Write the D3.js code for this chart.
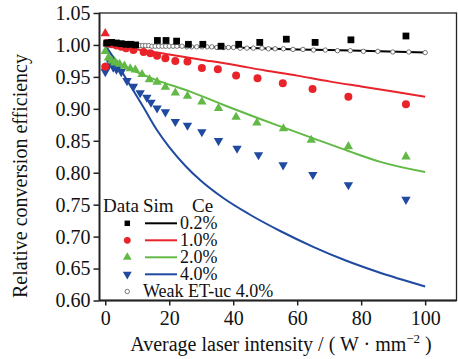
<!DOCTYPE html>
<html>
<head>
<meta charset="utf-8">
<script src="https://cdn.jsdelivr.net/npm/d3@7"></script>
<style>
  body { margin: 0; background: #fff; }
</style>
</head>
<body>
<script>
// measured points [intensity, efficiency]
let data02 = [[0.5,1.003],[2,1.004],[3.5,1.003],[5,1.002],[6.5,1.001],[8,1.001],[9.5,1.000],
  [16.3,1.007],[19,1.007],[22.3,1.006],[26,1.001],[30.5,1.001],[36.2,0.998],[41.7,1.001],
  [48.3,1.004],[56.6,1.009],[65.6,1.004],[76.8,1.008],[94,1.014]];
let data10 = [[0,0.966],[0.5,1.003],[2,1.001],[3.5,0.999],[5,0.997],[6.5,0.995],[8.8,0.992],
  [12,0.989],[14.1,0.987],[16.2,0.983],[18.8,0.979],[21.9,0.975],[25.7,0.974],[30.2,0.964],
  [35.2,0.962],[40.9,0.952],[47.6,0.948],[55.5,0.940],[64.8,0.931],[76,0.919],[94,0.907]];
let data20 = [[0,0.990],[1,0.980],[2,0.975],[3,0.972],[4.5,0.970],[6,0.967],[7.8,0.963],
  [9.4,0.961],[11.5,0.954],[13.8,0.946],[16.2,0.942],[18.8,0.934],[21.9,0.925],[25.7,0.920],
  [30.2,0.911],[35.4,0.901],[40.9,0.887],[47.4,0.878],[55.7,0.869],[64.4,0.851],[76,0.841],[94,0.825]];
let data20odd = [[0,1.018]];
let data40 = [[0,0.958],[0.3,0.962],[1,0.968],[1.6,0.972],[2.5,0.965],[3.5,0.962],[5,0.958],
  [6.8,0.944],[8.8,0.935],[10.9,0.925],[13,0.918],[14.3,0.910],[16.2,0.901],[18.8,0.895],
  [21.9,0.880],[25.7,0.874],[30.2,0.864],[35.4,0.850],[41.2,0.838],[47.9,0.828],[55.6,0.812],
  [64.9,0.797],[76,0.781],[94,0.758]];

// simulated curves
let sim02 = [[0,1.000],[20,0.998],[40,0.996],[60,0.993],[80,0.991],[100,0.988]];
let sim10 = [[0,1.000],[10,0.993],[20,0.985],[30,0.977],[40,0.969],[50,0.960],[60,0.952],
  [70,0.943],[80,0.935],[90,0.927],[100,0.919]];
let sim20 = [[0,1.000],[2,0.985],[5,0.969],[10,0.957],[16,0.945],[26.6,0.927],[37,0.906],
  [47.4,0.886],[57.8,0.867],[64.4,0.855],[76,0.834],[86,0.817],[100,0.801]];
let sim40 = [[0,1.000],[4,0.968],[8,0.935],[12,0.902],[16,0.868],[20,0.840],[25,0.811],
  [30,0.787],[37,0.760],[45,0.735],[55,0.708],[65,0.684],[75,0.663],[85,0.645],[100,0.622]];

// weak ET-uc 4.0% simulation points
let weakX = [0,0.5,1,1.5,2,2.5,3,3.7,4.4,5.1,5.8,6.6,7.4,8.2,9,9.9,10.8,11.7,12.6,13.6,14.6,
  15.6,16.7,17.8,18.9,20,21.2,22.4,24,25.5,27,28.6,30.2,31.8,33.3,34.9,37,38.5,40.1,42.2,44.3,
  46.3,49,51,53.1,55.7,58.7,61.8,65.1,68.8,72.6,76.6,80.7,85.2,89.9,94.9,100];
let weakY = [1.000,1.000,1.000,1.000,1.000,1.000,1.000,1.000,1.000,0.999,0.999,0.999,0.999,0.999,
  0.999,0.999,0.999,0.999,0.999,0.999,0.998,0.998,0.998,0.998,0.998,0.998,0.998,0.998,0.998,
  0.997,0.997,0.997,0.997,0.997,0.997,0.996,0.996,0.996,0.996,0.995,0.995,0.995,0.995,0.994,
  0.994,0.994,0.993,0.993,0.992,0.992,0.991,0.991,0.990,0.990,0.989,0.989,0.988];

let legendLabels = ["0.2%", "1.0%", "2.0%", "4.0%"];
let colors = ["#000000", "#e8232a", "#62b946", "#1f4aa0"];

let w = 458, h = 359;
let mLeft = 99.5, mRight = 456.5, mTop = 13, mBottom = 300.5;

let svg = d3.select("body").append("svg")
  .attr("width", w)
  .attr("height", h);

let x = d3.scaleLinear().domain([-1.8, 109.8]).range([mLeft, mRight]);
let y = d3.scaleLinear().domain([0.6, 1.05]).range([mBottom, mTop]);

// frame
svg.append("rect")
  .attr("x", mLeft).attr("y", mTop)
  .attr("width", mRight - mLeft).attr("height", mBottom - mTop)
  .attr("fill", "none").attr("stroke", "#222").attr("stroke-width", 1.3);

let yAxis = svg.append("g")
  .attr("transform", `translate(${mLeft},0)`)
  .call(d3.axisLeft(y)
    .tickValues(d3.range(0, 10).map(i => 0.6 + i * 0.05))
    .tickFormat(d3.format(".2f"))
    .tickSize(6).tickPadding(3));

let xAxis = svg.append("g")
  .attr("transform", `translate(0,${mBottom})`)
  .call(d3.axisBottom(x)
    .tickValues([0, 20, 40, 60, 80, 100])
    .tickSize(5).tickPadding(5));

[xAxis, yAxis].forEach(g => {
  g.attr("font-family", null).attr("font-size", null);
  g.selectAll("path").remove();
  g.selectAll("line").attr("stroke", "#222").attr("stroke-width", 1.5);
  g.selectAll("text").attr("fill", "#111").attr("font-size", 20);
});
// axis lines drawn thicker
svg.append("line").attr("x1", mLeft).attr("x2", mLeft).attr("y1", mTop).attr("y2", mBottom)
  .attr("stroke", "#222").attr("stroke-width", 1.8);
svg.append("line").attr("x1", mLeft).attr("x2", mRight).attr("y1", mBottom).attr("y2", mBottom)
  .attr("stroke", "#222").attr("stroke-width", 1.8);

let line = d3.line().x(d => x(d[0])).y(d => y(d[1])).curve(d3.curveMonotoneX);

[sim02, sim10, sim20, sim40].forEach((s, i) => {
  svg.append("path").datum(s)
    .attr("d", line)
    .attr("fill", "none")
    .attr("stroke", colors[i])
    .attr("stroke-width", 2);
});

// weak ET-uc circles
svg.selectAll("circle.weak")
  .data(weakX.map((v, i) => [v, weakY[i]]))
  .enter().append("circle")
  .attr("class", "weak")
  .attr("cx", d => x(d[0]))
  .attr("cy", d => y(d[1]))
  .attr("r", 2.2)
  .attr("fill", "#fff")
  .attr("stroke", "#666")
  .attr("stroke-width", 0.9);

function drawMarks(data, shape, size, color, rot) {
  svg.append("g").selectAll("path")
    .data(data)
    .enter().append("path")
    .attr("d", d3.symbol().type(shape).size(size))
    .attr("transform", d => `translate(${x(d[0])},${y(d[1])}) rotate(${rot})`)
    .attr("fill", color);
}

drawMarks(data40, d3.symbolTriangle, 38, colors[3], 180);
drawMarks(data20, d3.symbolTriangle, 38, colors[2], 0);
drawMarks(data20odd, d3.symbolTriangle, 38, colors[1], 0);
drawMarks(data10, d3.symbolCircle, 50, colors[1], 0);
drawMarks(data02, d3.symbolSquare, 46, colors[0], 0);

// legend
let lg = svg.append("g").attr("fill", "#111");
lg.append("text").attr("x", 103).attr("y", 212).attr("font-size", 19).text("Data");
lg.append("text").attr("x", 143).attr("y", 212).attr("font-size", 19).text("Sim");
lg.append("text").attr("x", 192).attr("y", 212).attr("font-size", 19).text("Ce");

let legendShapes = [d3.symbolSquare, d3.symbolCircle, d3.symbolTriangle, d3.symbolTriangle];
let legendSizes = [30, 36, 34, 34];
legendLabels.forEach((lab, i) => {
  let cy = 223.3 + i * 17;
  lg.append("path")
    .attr("d", d3.symbol().type(legendShapes[i]).size(legendSizes[i]))
    .attr("transform", `translate(127.3,${cy}) rotate(${i == 3 ? 180 : 0})`)
    .attr("fill", colors[i]);
  lg.append("line")
    .attr("x1", 145).attr("x2", 177).attr("y1", cy).attr("y2", cy)
    .attr("stroke", colors[i]).attr("stroke-width", 2);
  lg.append("text").attr("x", 180).attr("y", cy + 6).attr("font-size", 18).text(lab);
});
lg.append("circle").attr("cx", 127.3).attr("cy", 291.5).attr("r", 2.2)
  .attr("fill", "#fff").attr("stroke", "#666").attr("stroke-width", 0.9);
lg.append("text").attr("x", 143).attr("y", 297).attr("font-size", 18).text("Weak ET-uc 4.0%");

// axis titles
let xt = svg.append("text")
  .attr("x", 281).attr("y", 351)
  .attr("text-anchor", "middle")
  .attr("font-size", 20)
  .attr("fill", "#111");
xt.append("tspan").text("Average laser intensity / ( W · mm");
xt.append("tspan").attr("font-size", 13).attr("dy", -8).text("−2");
xt.append("tspan").attr("dy", 8).text(" )");

svg.append("text")
  .attr("transform", "translate(27,176) rotate(-90)")
  .attr("text-anchor", "middle")
  .attr("font-size", 20)
  .attr("fill", "#111")
  .text("Relative conversion efficiency");

// every text gets the serif family directly on the element
svg.selectAll("text, tspan").attr("font-family", "Liberation Serif");
</script>
</body>
</html>
